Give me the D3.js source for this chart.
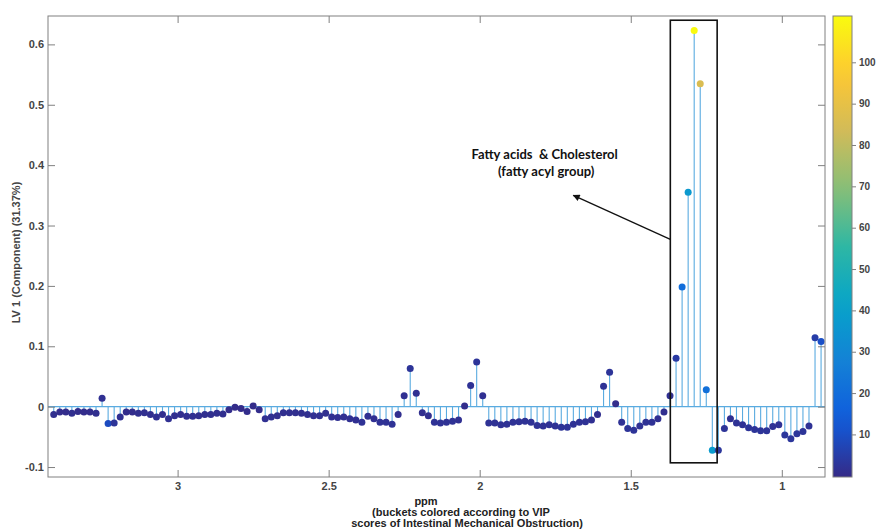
<!DOCTYPE html>
<html>
<head>
<meta charset="utf-8">
<script src="https://cdn.jsdelivr.net/npm/d3@7"></script>
<style>
  body { margin: 0; background: #ffffff; }
  text { font-family: Arial, Helvetica, "Liberation Sans", sans-serif; }
</style>
</head>
<body>
<div id="chart"></div>
<script>
// bucket centres (ppm)
const ppm = [
  3.41,3.39,3.37,3.35,3.33,3.31,3.29,3.27,3.25,3.23,
  3.21,3.19,3.17,3.15,3.13,3.11,3.09,3.07,3.05,3.03,
  3.01,2.99,2.97,2.95,2.93,2.91,2.89,2.87,2.85,2.83,
  2.81,2.79,2.77,2.75,2.73,2.71,2.69,2.67,2.65,2.63,
  2.61,2.59,2.57,2.55,2.53,2.51,2.49,2.47,2.45,2.43,
  2.41,2.39,2.37,2.35,2.33,2.31,2.29,2.27,2.25,2.23,
  2.21,2.19,2.17,2.15,2.13,2.11,2.09,2.07,2.05,2.03,
  2.01,1.99,1.97,1.95,1.93,1.91,1.89,1.87,1.85,1.83,
  1.81,1.79,1.77,1.75,1.73,1.71,1.69,1.67,1.65,1.63,
  1.61,1.59,1.57,1.55,1.53,1.51,1.49,1.47,1.45,1.43,
  1.41,1.39,1.37,1.35,1.33,1.31,1.29,1.27,1.25,1.23,
  1.21,1.19,1.17,1.15,1.13,1.11,1.09,1.07,1.05,1.03,
  1.01,0.99,0.97,0.95,0.93,0.91,0.89,0.87
];

// LV 1 loadings
const loading = [
  -0.013,-0.009,-0.009,-0.011,-0.008,-0.009,-0.009,-0.011,0.014,-0.028,
  -0.027,-0.017,-0.009,-0.009,-0.011,-0.010,-0.013,-0.017,-0.013,-0.020,
  -0.015,-0.013,-0.016,-0.016,-0.015,-0.013,-0.013,-0.011,-0.012,-0.005,
  -0.001,-0.003,-0.008,0.001,-0.005,-0.020,-0.017,-0.015,-0.010,-0.010,
  -0.010,-0.011,-0.013,-0.015,-0.015,-0.011,-0.017,-0.018,-0.017,-0.020,
  -0.022,-0.026,-0.016,-0.020,-0.026,-0.026,-0.029,-0.013,0.018,0.063,
  0.022,-0.010,-0.015,-0.026,-0.027,-0.026,-0.024,-0.022,0.001,0.035,
  0.074,0.018,-0.027,-0.027,-0.030,-0.029,-0.026,-0.025,-0.024,-0.026,
  -0.031,-0.032,-0.030,-0.032,-0.034,-0.034,-0.029,-0.026,-0.025,-0.022,
  -0.013,0.034,0.057,0.005,-0.026,-0.036,-0.039,-0.032,-0.026,-0.026,
  -0.020,-0.009,0.018,0.080,0.198,0.355,0.623,0.535,0.028,-0.072,
  -0.072,-0.036,-0.020,-0.027,-0.030,-0.035,-0.038,-0.040,-0.040,-0.033,
  -0.030,-0.047,-0.053,-0.045,-0.041,-0.032,0.114,0.108
];

// VIP score of each bucket (colour)
const vip = [
  1,0.5,0.5,1,0.5,0.5,0.5,1,1.5,9,
  2.5,1.5,0.5,0.5,1,1,1,1.5,1,1.5,
  1,1,1.5,1.5,1,1,1,1,1,0.5,
  0.2,0.2,0.5,0.2,0.5,1.5,1.5,1,1,1,
  1,1,1,1.5,1.5,1,1.5,1.5,1.5,1.5,
  1.5,2,1.5,1.5,2,2,2,1,1.5,2.5,
  1.5,1,1,2,2,2,2,1.5,0.5,2,
  2.5,1.5,2,2,2,2,2,2,2,2,
  2,2,2,2,2.5,2.5,2,2,2,1.5,
  1,2,2.5,0.5,2,2.5,2.5,2,2,2,
  1.5,1,1.5,4,20,37,111,86,21,38,
  3,2.5,1.5,2,2,2.5,2.5,2.5,2.5,2,
  2,3,3,3,2.5,2,5,10
];

const xTicks = [3, 2.5, 2, 1.5, 1];
const yTicks = [-0.1, 0, 0.1, 0.2, 0.3, 0.4, 0.5, 0.6];
const cbTicks = [10, 20, 30, 40, 50, 60, 70, 80, 90, 100];

// parula-like colormap
const parulaStops = ["#352a87", "#0f5cdd", "#1481d6", "#06a4ca", "#2eb7a4", "#87bf77", "#d1bb59", "#fec832", "#f9fb0e"];

const W = 876, H = 532;
let margin = {top: 16, right: 51, bottom: 55, left: 48},
    width = W - margin.left - margin.right,
    height = H - margin.top - margin.bottom;

const AXIS_GREY = "#808080";
const TEXT_GREY = "#444444";
const STEM = "#5aabe0";
const FONT = "Arial, Helvetica, 'Liberation Sans', sans-serif";

let svg = d3.select("#chart").append("svg")
    .attr("width", W)
    .attr("height", H);
svg.append("rect").attr("width", W).attr("height", H).attr("fill", "#ffffff");

let x = d3.scaleLinear().domain([3.429, 0.857]).range([0, width]);
let y = d3.scaleLinear().domain([-0.1165, 0.647]).range([height, 0]);

let vipDomain = [-0.3, 111.2];
let colorPos = d3.scaleLinear().domain(vipDomain).range([0, 1]);
let parula = d3.scaleLinear()
    .domain(parulaStops.map((c, i) => i / (parulaStops.length - 1)))
    .range(parulaStops)
    .interpolate(d3.interpolateRgb);
let color = d => parula(Math.max(0, Math.min(1, colorPos(d))));

let g = svg.append("g")
    .attr("transform", "translate(" + margin.left + "," + margin.top + ")");

let data = ppm.map((p, i) => ({ppm: p, value: loading[i], vip: vip[i]}));

// stems
g.selectAll(".stem")
    .data(data)
    .enter().append("line")
    .attr("class", "stem")
    .attr("x1", d => x(d.ppm))
    .attr("x2", d => x(d.ppm))
    .attr("y1", y(0))
    .attr("y2", d => y(d.value))
    .attr("stroke", STEM)
    .attr("stroke-width", 1.1);

// baseline
g.append("line")
    .attr("x1", 0).attr("x2", width)
    .attr("y1", y(0)).attr("y2", y(0))
    .attr("stroke", STEM)
    .attr("stroke-width", 1.1);

// markers
g.selectAll(".dot")
    .data(data)
    .enter().append("circle")
    .attr("class", "dot")
    .attr("cx", d => x(d.ppm))
    .attr("cy", d => y(d.value))
    .attr("r", 3.5)
    .attr("fill", d => color(d.vip));

// axes (ticks pointing inward, mirrored on top/right)
let fmt = d => String(+d.toFixed(1));

let xAxisEL = g.append("g")
    .attr("transform", "translate(0," + height + ")")
    .call(d3.axisBottom(x).tickValues(xTicks).tickFormat(fmt).tickSize(-7).tickPadding(5));
let xTopEL = g.append("g")
    .call(d3.axisTop(x).tickValues(xTicks).tickFormat("").tickSize(-7));
let yAxisEL = g.append("g")
    .call(d3.axisLeft(y).tickValues(yTicks).tickFormat(fmt).tickSize(-7).tickPadding(4));
let yRightEL = g.append("g")
    .attr("transform", "translate(" + width + ",0)")
    .call(d3.axisRight(y).tickValues(yTicks).tickFormat("").tickSize(-7));

[xAxisEL, xTopEL, yAxisEL, yRightEL].forEach(a => {
    a.attr("font-family", null);
    a.select(".domain").remove();
    a.selectAll("line").attr("stroke", AXIS_GREY);
    a.selectAll("text")
        .attr("fill", TEXT_GREY)
        .style("font-size", "11px")
        .style("font-weight", "bold")
        .style("font-family", FONT);
});

g.append("rect")
    .attr("width", width).attr("height", height)
    .attr("fill", "none")
    .attr("stroke", AXIS_GREY)
    .attr("stroke-width", 1);

// highlight box around the fatty acid buckets
g.append("rect")
    .attr("x", x(1.369)).attr("y", y(0.64))
    .attr("width", x(1.214) - x(1.369))
    .attr("height", y(-0.093) - y(0.64))
    .attr("fill", "none")
    .attr("stroke", "#111111")
    .attr("stroke-width", 1.6);

// annotation with arrow
svg.append("defs").append("marker")
    .attr("id", "arrow")
    .attr("viewBox", "0 0 10 10")
    .attr("refX", 9).attr("refY", 5)
    .attr("markerWidth", 9).attr("markerHeight", 7)
    .attr("markerUnits", "userSpaceOnUse")
    .attr("orient", "auto")
    .append("path")
    .attr("d", "M0,0 L10,5 L0,10 z")
    .attr("fill", "#111111");

g.append("line")
    .attr("x1", x(1.369)).attr("y1", y(0.277))
    .attr("x2", x(1.69)).attr("y2", y(0.350))
    .attr("stroke", "#111111")
    .attr("stroke-width", 1.3)
    .attr("marker-end", "url(#arrow)");

let note = g.append("text")
    .attr("text-anchor", "middle")
    .attr("xml:space", "preserve")
    .attr("fill", "#111111")
    .style("white-space", "pre")
    .style("font-family", "Lato, 'Open Sans', sans-serif")
    .style("font-weight", "bold")
    .style("font-size", "13px");
note.append("tspan").attr("x", x(1.785)).attr("y", y(0.41)).text("Fatty acids  & Cholesterol");
note.append("tspan").attr("x", x(1.78)).attr("y", y(0.382)).text("(fatty acyl group)");

// axis titles
svg.append("text")
    .attr("transform", "translate(19.5," + (margin.top + height / 2 + 6) + ") rotate(-90)")
    .attr("text-anchor", "middle")
    .attr("fill", TEXT_GREY)
    .style("font-family", FONT)
    .style("font-size", "11px")
    .style("font-weight", "bold")
    .text("LV 1 (Component) (31.37%)");

let xTitle = svg.append("text")
    .attr("text-anchor", "middle")
    .attr("fill", "#222222")
    .style("font-family", FONT)
    .style("font-size", "11px")
    .style("font-weight", "bold");
xTitle.append("tspan").attr("x", 426).attr("y", 505).text("ppm");
xTitle.append("tspan").attr("x", 461).attr("y", 516).text("(buckets colored according to VIP");
xTitle.append("tspan").attr("x", 467).attr("y", 527).text("scores of Intestinal Mechanical Obstruction)");

// colorbar
let cbX = 833, cbW = 19;
let cy = d3.scaleLinear().domain(vipDomain).range([margin.top + height, margin.top]);

let grad = svg.select("defs").append("linearGradient")
    .attr("id", "cbgrad")
    .attr("x1", "0").attr("y1", "1").attr("x2", "0").attr("y2", "0");
d3.range(0, 1.0001, 0.05).forEach(t => {
    grad.append("stop").attr("offset", t).attr("stop-color", parula(t));
});

svg.append("rect")
    .attr("x", cbX).attr("y", margin.top)
    .attr("width", cbW).attr("height", height)
    .attr("fill", "url(#cbgrad)")
    .attr("stroke", AXIS_GREY)
    .attr("stroke-width", 1);

let cbAxis = svg.append("g")
    .attr("transform", "translate(" + (cbX + cbW) + ",0)")
    .call(d3.axisRight(cy).tickValues(cbTicks).tickSize(4).tickPadding(3));
cbAxis.attr("font-family", null);
cbAxis.select(".domain").remove();
cbAxis.selectAll("line").attr("stroke", AXIS_GREY);
cbAxis.selectAll("text")
    .attr("fill", TEXT_GREY)
    .style("font-size", "10px")
    .style("font-weight", "bold")
    .style("font-family", FONT);
</script>
</body>
</html>
